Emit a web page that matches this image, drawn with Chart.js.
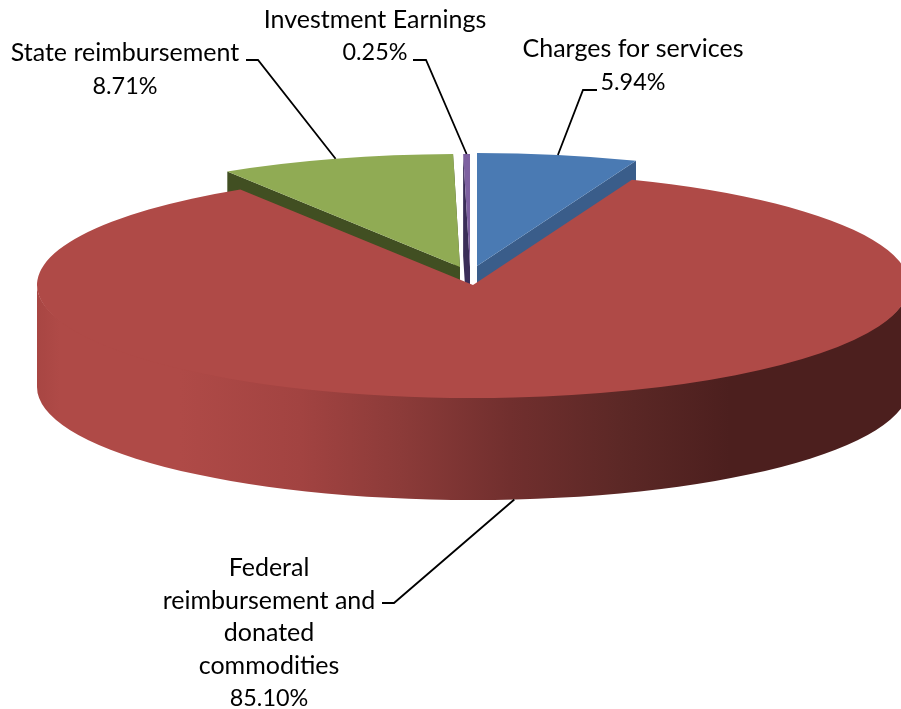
<!DOCTYPE html>
<html>
<head>
<meta charset="utf-8">
<title>Revenue pie</title>
<script src="https://cdn.jsdelivr.net/npm/chart.js@4/dist/chart.umd.js"></script>
<style>
  html, body { margin: 0; padding: 0; background: #fff; overflow: hidden; }
  #wrap { width: 901px; height: 709px; }
  canvas { display: block; }
</style>
</head>
<body>
<div id="wrap"><canvas id="pie" width="901" height="709"></canvas></div>
<script>
// data, clockwise from 12 o'clock
const categories = ["Charges for services", "Federal reimbursement and donated commodities", "State reimbursement", "Investment Earnings"];
const values = [5.94, 85.10, 8.71, 0.25];

// label text, wrapped the way the original wraps it
const labelLines = [
  ["Charges for services"],
  ["Federal", "reimbursement and", "donated", "commodities"],
  ["State reimbursement"],
  ["Investment Earnings"]
];

// colours
const faceColors = ["#4a7ab3", "#af4a47", "#90ab54", "#7e61a1"];
const wallColors = ["#3a5d8a", "#4a1e1d", "#414f22", "#3a2d58"];

// 3d look: every slice is an ellipse, slices are pulled apart a bit
const radiusX = 436;
const radiusY = 113;
const depth = 102;
const origins = [[477, 266], [473, 285], [460, 267], [470, 267]];

// where the text sits and where the leader line bends
const labelPos = [
  { x: 633, y: 49, lineH: 33 },
  { x: 269, y: 568, lineH: 32.5 },
  { x: 125, y: 53, lineH: 33 },
  { x: 375, y: 20, lineH: 32 }
];
const leaders = [
  [[597, 90], [583, 90]],
  [[382, 603], [394, 603]],
  [[246, 60], [258, 60]],
  [[413, 60], [426, 60]]
];

// red wall shading left to right
const wallStops = [[37, "#a84643"], [60, "#af4a47"], [180, "#af4a47"], [300, "#a24341"], [400, "#8c3b39"], [510, "#712f2e"], [620, "#5c2826"], [730, "#4c1f1e"], [901, "#4c1f1e"]];

function rimPoint(i, angle) {
  return [origins[i][0] + radiusX * Math.cos(angle), origins[i][1] + radiusY * Math.sin(angle)];
}

// flat side of a slice, from the centre out to the rim and pushed down by depth
function drawCutWall(ctx, i, angle) {
  const [ox, oy] = origins[i];
  const [rx, ry] = rimPoint(i, angle);
  ctx.fillStyle = wallColors[i];
  ctx.beginPath();
  ctx.moveTo(ox, oy);
  ctx.lineTo(rx, ry);
  ctx.lineTo(rx, ry + depth);
  ctx.lineTo(ox, oy + depth);
  ctx.closePath();
  ctx.fill();
}

// round outside of the big slice, top edge tucked under the face so no seam shows
function drawRimWall(ctx, i) {
  const [ox, oy] = origins[i];
  const grad = ctx.createLinearGradient(37, 0, 901, 0);
  wallStops.forEach(([x, c]) => grad.addColorStop((x - 37) / (901 - 37), c));
  ctx.fillStyle = grad;
  ctx.beginPath();
  ctx.ellipse(ox, oy, radiusX, radiusY - 3, 0, 0, Math.PI);
  ctx.ellipse(ox, oy + depth, radiusX, radiusY, 0, Math.PI, 0, true);
  ctx.closePath();
  ctx.fill();
}

function drawFace(ctx, arc, i) {
  const p = arc.getProps(["x", "y", "outerRadius"], true);
  ctx.save();
  ctx.translate(origins[i][0], origins[i][1]);
  ctx.scale(radiusX / p.outerRadius, radiusY / p.outerRadius);
  ctx.translate(-p.x, -p.y);
  arc.draw(ctx);
  ctx.restore();
}

const pie3d = {
  id: "pie3d",
  beforeDatasetsDraw(chart) {
    const ctx = chart.ctx;
    const arcs = chart.getDatasetMeta(0).data;
    const biggest = values.indexOf(Math.max(...values));

    // small slices first, the big one covers what is left of their walls
    arcs.forEach((arc, i) => {
      if (i === biggest) return;
      drawCutWall(ctx, i, arc.startAngle);
      drawCutWall(ctx, i, arc.endAngle);
    });
    arcs.forEach((arc, i) => {
      if (i !== biggest) drawFace(ctx, arc, i);
    });
    drawRimWall(ctx, biggest);
    drawFace(ctx, arcs[biggest], biggest);
    return false;
  },
  afterDraw(chart) {
    const ctx = chart.ctx;
    const arcs = chart.getDatasetMeta(0).data;

    ctx.save();
    ctx.strokeStyle = "#000";
    ctx.lineWidth = 1.8;
    arcs.forEach((arc, i) => {
      const mid = (arc.startAngle + arc.endAngle) / 2;
      let [ax, ay] = rimPoint(i, mid);
      if (Math.sin(mid) > 0) ay += depth; // leader touches the bottom of the wall
      ctx.beginPath();
      ctx.moveTo(leaders[i][0][0], leaders[i][0][1]);
      ctx.lineTo(leaders[i][1][0], leaders[i][1][1]);
      ctx.lineTo(ax, ay);
      ctx.stroke();
    });

    ctx.fillStyle = "#000";
    ctx.textAlign = "center";
    ctx.textBaseline = "middle";
    values.forEach((v, i) => {
      const pos = labelPos[i];
      ctx.font = "25px Lato";
      labelLines[i].forEach((t, n) => {
        ctx.fillText(t, pos.x, pos.y + n * pos.lineH);
      });
      // Lato digits run wider than the original font
      ctx.font = "23.4px Lato";
      ctx.fillText(v.toFixed(2) + "%", pos.x, pos.y + labelLines[i].length * pos.lineH);
    });
    ctx.restore();
  }
};

new Chart(document.getElementById("pie"), {
  type: "pie",
  data: {
    labels: categories,
    datasets: [{
      data: values,
      backgroundColor: faceColors,
      borderWidth: 0
    }]
  },
  options: {
    responsive: false,
    animation: false,
    layout: { padding: 0 },
    plugins: {
      legend: { display: false },
      tooltip: { enabled: false }
    }
  },
  plugins: [pie3d]
});
</script>
</body>
</html>
